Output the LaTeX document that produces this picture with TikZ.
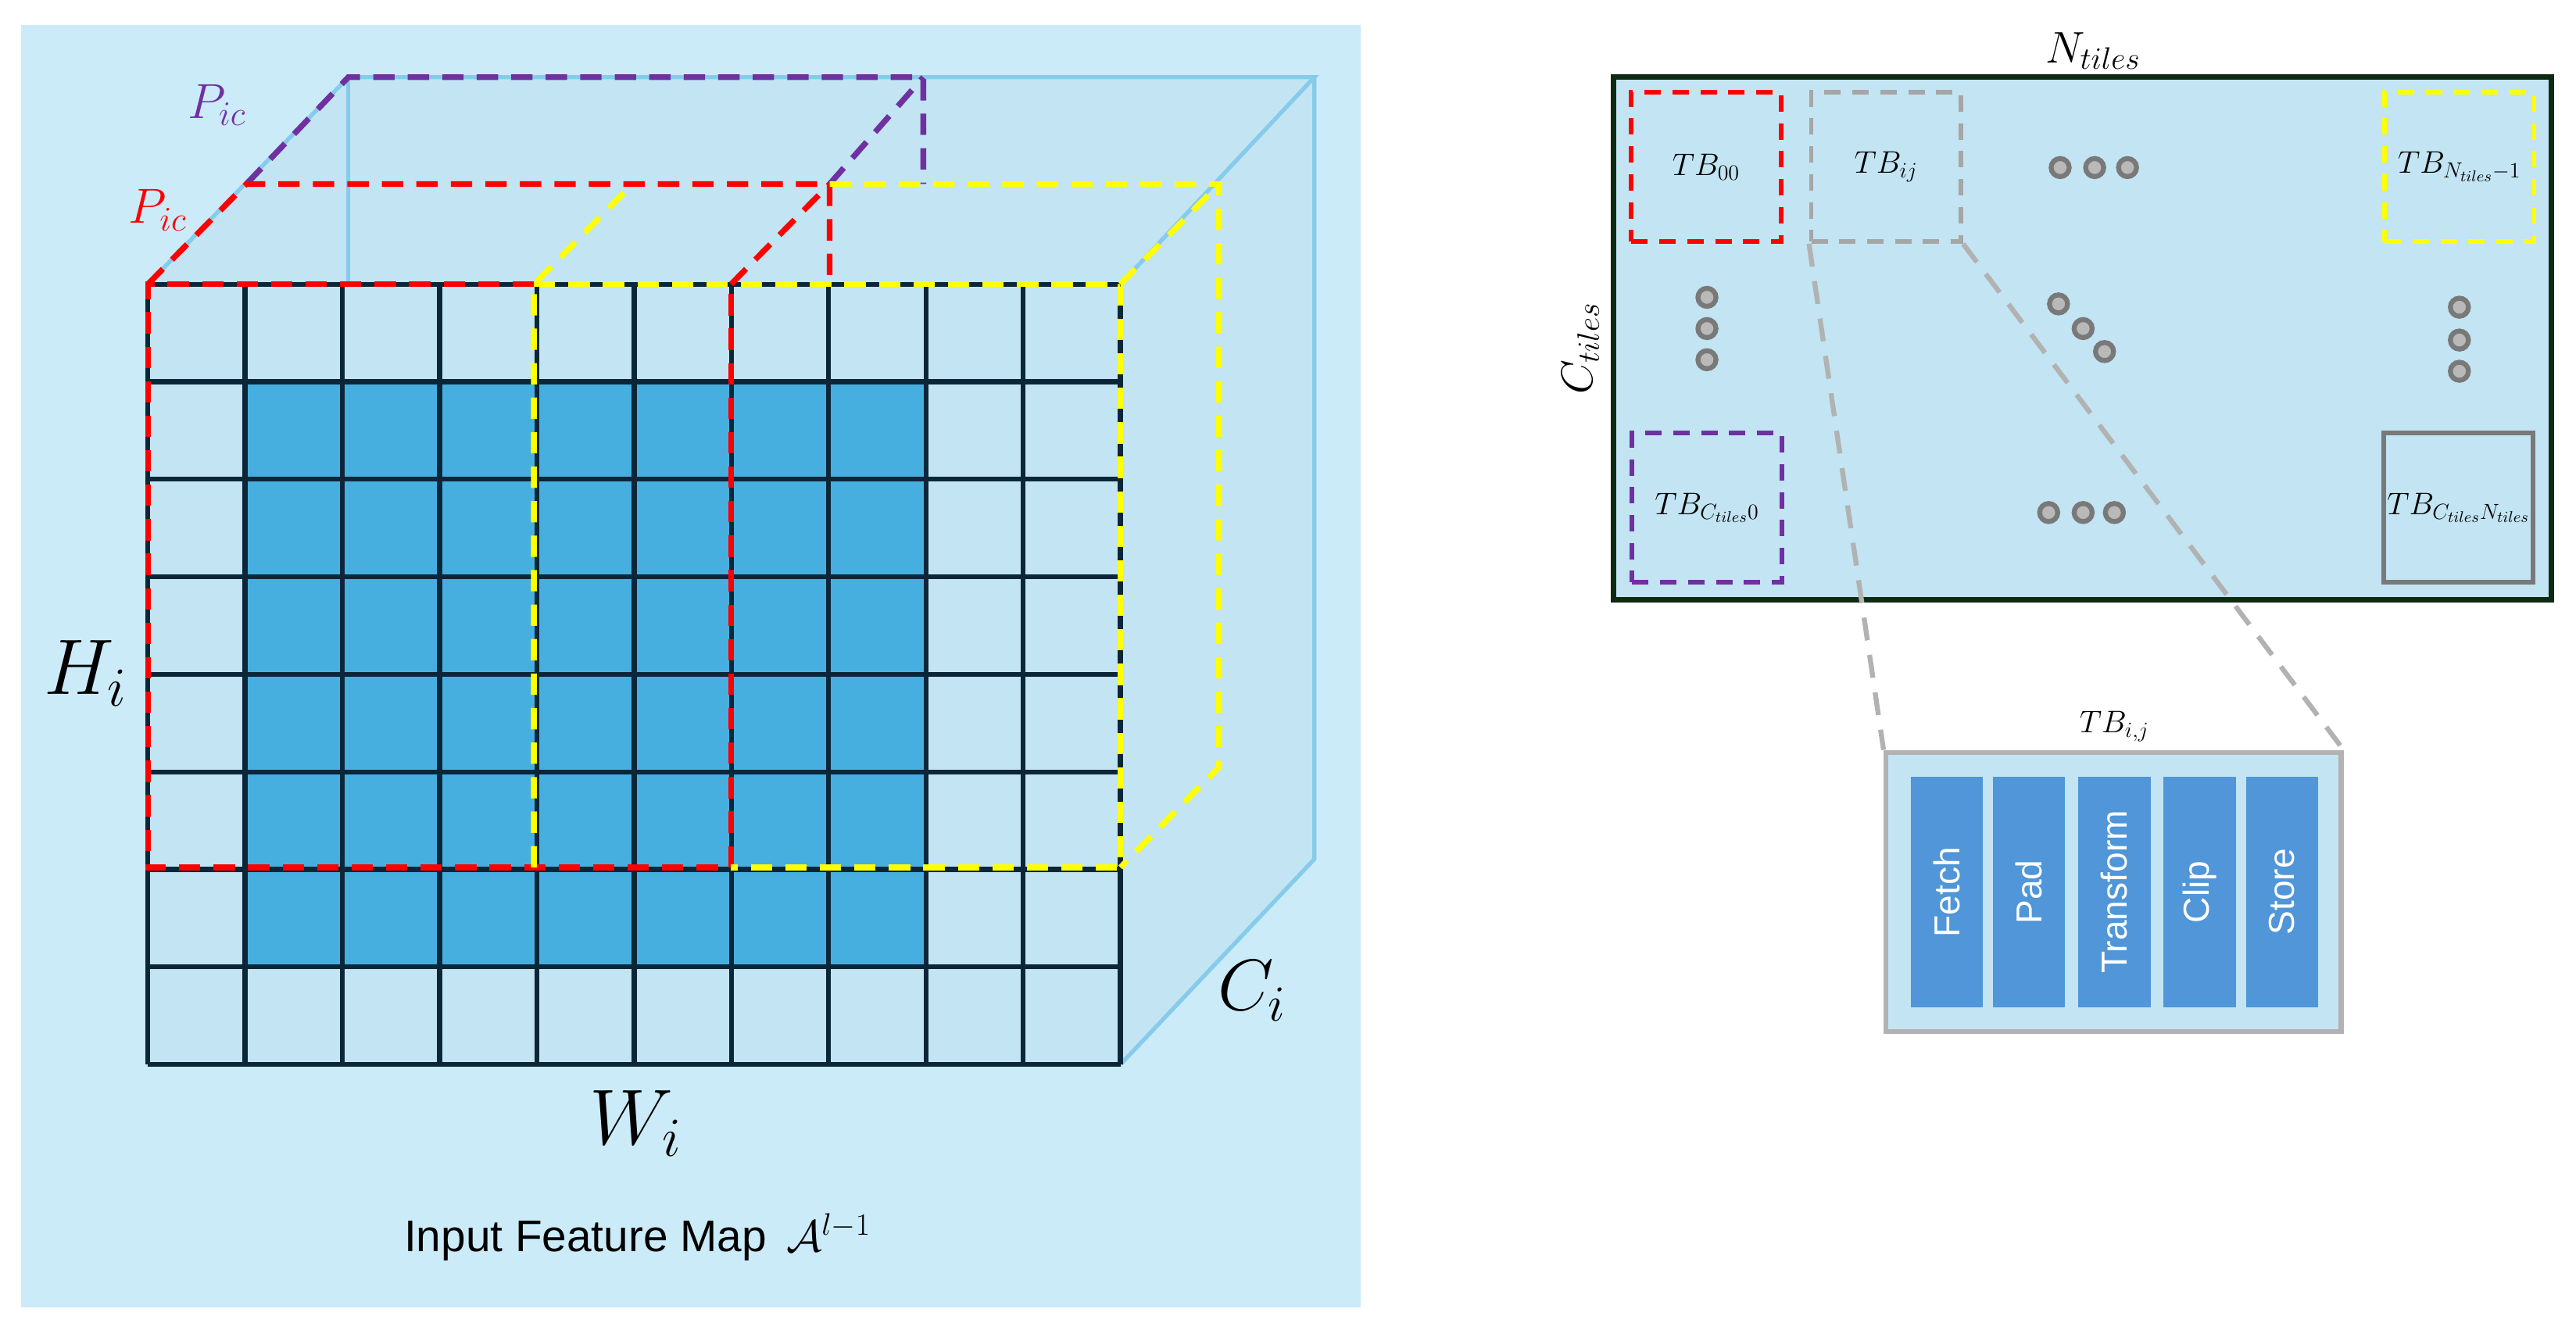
\RequirePackage{fix-cm}
\documentclass[tikz,border=0pt]{standalone}
\usepackage{fontspec}
\newfontfamily\sansf{Liberation Sans}
\begin{document}
\definecolor{bgb}{HTML}{CBEBF9}
\definecolor{face}{HTML}{C2E4F3}
\definecolor{dcell}{HTML}{47AFDF}
\definecolor{gridc}{HTML}{0B2638}
\definecolor{edge}{HTML}{86CBEA}
\definecolor{pur}{HTML}{7030A0}
\definecolor{yel}{HTML}{FFFF00}
\definecolor{bar}{HTML}{5096D8}
\definecolor{dgreen}{HTML}{0F2A12}
\begin{tikzpicture}[x=1pt,y=-1pt,
  dsh/.style={line width=3.5pt,dash pattern=on 13pt off 8pt},
  tb/.style={draw,minimum width=91pt,minimum height=91pt,line width=2.8pt,dash pattern=on 10pt off 7pt,inner sep=0pt},
  dot/.style={circle,draw=gray!95!black,fill=gray!55,line width=3pt,minimum size=11pt,inner sep=0pt},
  barn/.style={fill=bar,minimum width=44pt,minimum height=140pt,inner sep=0pt,text=white,font=\sansf\fontsize{22}{24}\selectfont},
  lbl/.style={font=\fontsize{19}{21}\selectfont}]
\useasboundingbox (0,0) rectangle (1568,811.6);
% left panel
\fill[bgb] (13,15) rectangle (828,796);
\fill[face] (90,173) -- (212,47) -- (800,47) -- (682,173) -- cycle;
\fill[face] (682,173) -- (800,47) -- (800,523) -- (682,648) -- cycle;
\draw[edge,line width=2.5pt] (90,173) -- (212,47) -- (800,47) -- (682,173);
\draw[edge,line width=2.5pt] (212,47) -- (212,173);
\draw[edge,line width=2.5pt] (800,47) -- (800,523) -- (682,648);
\fill[face] (90,173) rectangle (682,648);
\fill[dcell] (149.2,232.4) rectangle (563.6,588.6);
\foreach \i in {0,...,10} \draw[gridc,line width=3pt] ({90+59.2*\i},173) -- ({90+59.2*\i},648);
\foreach \j in {0,...,8} \draw[gridc,line width=3pt] (90,{173+59.375*\j}) -- (682,{173+59.375*\j});
% purple
\draw[pur,dsh] (150,112) -- (212,47) -- (562,47) -- (562,112);
\draw[pur,dsh] (505,112) -- (562,47);
% red
\draw[red,dsh] (325,173) -- (90,173) -- (90,528) -- (445,528) -- (445,173);
\draw[red,dsh] (90,173) -- (150,112) -- (505,112) -- (505,173);
\draw[red,dsh] (445,173) -- (505,112);
% yellow
\draw[yel,dsh] (325,173) -- (682,173) -- (682,528) -- (445,528);
\draw[yel,dsh] (325,528) -- (325,173) -- (385,112);
\draw[yel,dsh] (505,112) -- (742,112) -- (742,467) -- (682,528);
\draw[yel,dsh] (682,173) -- (742,112);
\node[text=pur,font=\fontsize{30}{32}\selectfont] (p1) at (132,64) {$P_{ic}$};
\node[text=red,font=\fontsize{30}{32}\selectfont] (p2) at (96,128) {$P_{ic}$};
\node[font=\fontsize{48}{52}\selectfont] (hi) at (52,410) {$H_i$};
\node[font=\fontsize{48}{52}\selectfont] (wi) at (387,684) {$W_i$};
\node[font=\fontsize{44}{48}\selectfont] (ci) at (762,603) {$C_i$};
\node[font=\sansf\fontsize{27}{30}\selectfont] (title) at (388,753) {Input Feature Map \,$\mathcal{A}^{l-1}$};
% right panel
\node[draw=dgreen,fill=face,line width=3.5pt,minimum width=571pt,minimum height=318pt,inner sep=0pt] (grid) at (1267.5,206) {};
\node[font=\fontsize{27}{30}\selectfont] (nt) at (1274,31) {$N_{tiles}$};
\node[font=\fontsize{27}{30}\selectfont,rotate=90] (ct) at (962,212) {$C_{tiles}$};
\node[tb,draw=red] (t00) at (1038.5,101.5) {};
\node[lbl] at (t00) {$TB_{00}$};
\node[tb,draw=gray!70] (tij) at (1148,101.5) {};
\node[lbl] at (tij) {$TB_{ij}$};
\node[tb,draw=yel] (tn) at (1497,101.5) {};
\node[lbl] at (tn) {$TB_{N_{tiles}-1}$};
\node[tb,draw=pur] (tc) at (1039,309) {};
\node[lbl] at (tc) {$TB_{C_{tiles}0}$};
\node[tb,draw=gray!95!black,dash pattern=] (tcn) at (1496.5,309) {};
\node[lbl] at (tcn) {$TB_{C_{tiles}N_{tiles}}$};
\foreach \p [count=\k] in {(1254,102),(1275,102),(1295,102),(1039,181),(1039,200),(1039,219),(1253,185),(1268,200),(1281,214),(1497,187),(1497,207),(1497,226),(1247,312),(1268,312),(1287,312)}
  \node[dot] (d\k) at \p {};
% zoom box
\node[draw=gray!60,fill=face,line width=3pt,minimum width=277pt,minimum height=170pt,inner sep=0pt] (zb) at (1286.5,543) {};
\node[lbl] (zl) at (1287,442) {$TB_{i,j}$};
\draw[gray!60,line width=3pt,dash pattern=on 14pt off 9pt] (tij.south west) -- (zb.north west);
\draw[gray!60,line width=3pt,dash pattern=on 14pt off 9pt] (tij.south east) -- (zb.north east);
\foreach \x/\t [count=\k] in {1185/Fetch,1235/Pad,1287/Transform,1339/Clip,1389/Store}
  \node[barn] (b\k) at (\x,543) {\rotatebox{90}{\t}};
\end{tikzpicture}
\end{document}
